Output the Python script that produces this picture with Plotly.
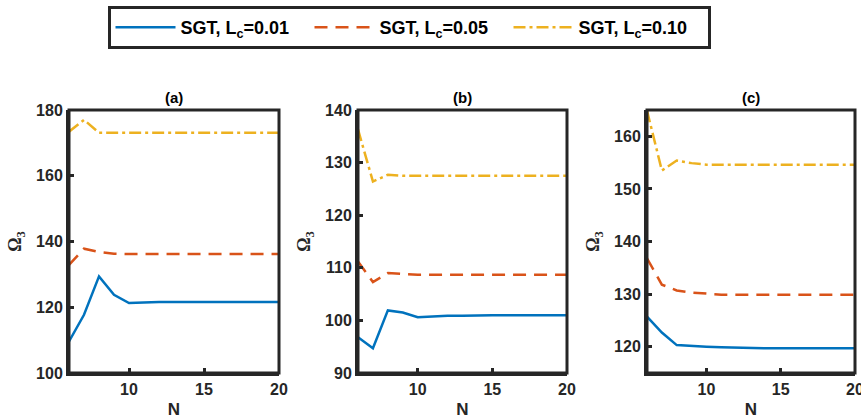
import plotly.graph_objects as go

N = list(range(6, 21))

# Panel (a)
a_001 = [109.6, 117.7, 129.4, 123.8, 121.3, 121.5, 121.6, 121.6, 121.6, 121.6, 121.6, 121.6, 121.6, 121.6, 121.6]
a_005 = [132.9, 137.8, 136.8, 136.3, 136.2, 136.2, 136.2, 136.2, 136.2, 136.2, 136.2, 136.2, 136.2, 136.2, 136.2]
a_010 = [173.4, 177.0, 173.1, 173.1, 173.1, 173.1, 173.1, 173.1, 173.1, 173.1, 173.1, 173.1, 173.1, 173.1, 173.1]

# Panel (b)
b_001 = [96.8, 94.7, 101.9, 101.5, 100.6, 100.8, 100.9, 100.9, 101.0, 101.0, 101.0, 101.0, 101.0, 101.0, 101.0]
b_005 = [111.2, 107.3, 109.0, 108.8, 108.7, 108.7, 108.7, 108.7, 108.7, 108.7, 108.7, 108.7, 108.7, 108.7, 108.7]
b_010 = [136.3, 126.4, 127.7, 127.5, 127.5, 127.5, 127.5, 127.5, 127.5, 127.5, 127.5, 127.5, 127.5, 127.5, 127.5]

# Panel (c)
c_001 = [125.7, 122.7, 120.3, 120.1, 120.0, 119.9, 119.8, 119.8, 119.7, 119.7, 119.7, 119.7, 119.7, 119.7, 119.7]
c_005 = [136.8, 131.8, 130.7, 130.3, 130.1, 129.9, 129.9, 129.9, 129.9, 129.9, 129.9, 129.9, 129.9, 129.9, 129.9]
c_010 = [164.9, 153.5, 155.4, 154.9, 154.6, 154.6, 154.6, 154.6, 154.6, 154.6, 154.6, 154.6, 154.6, 154.6, 154.6]

series_names = ["SGT, L<sub>c</sub>=0.01", "SGT, L<sub>c</sub>=0.05", "SGT, L<sub>c</sub>=0.10"]
panel_titles = ["(a)", "(b)", "(c)"]
y_ranges = [[100, 180], [90, 140], [115, 165]]
y_ticks = [[100, 120, 140, 160, 180], [90, 100, 110, 120, 130, 140], [120, 130, 140, 150, 160]]
x_range = [6, 20]
x_ticks = [10, 15, 20]

colors = ["#0072BD", "#D95319", "#EDB120"]
dashes = ["solid", "13px,8px", "12px,4px,3px,4px"]

panels = [(a_001, a_005, a_010), (b_001, b_005, b_010), (c_001, c_005, c_010)]

W, H = 861, 419
x_doms = [(69 / W, 279 / W), (358 / W, 567 / W), (647 / W, 855 / W)]
y_dom = (1 - 373 / H, 1 - 110 / H)
INK = "#262626"

fig = go.Figure()
for p, data in enumerate(panels):
    xa = "x" if p == 0 else f"x{p+1}"
    ya = "y" if p == 0 else f"y{p+1}"
    for s, vals in enumerate(data):
        fig.add_trace(go.Scatter(
            x=N, y=vals, mode="lines", name=series_names[s],
            line=dict(color=colors[s], width=2.5, dash=dashes[s]),
            xaxis=xa, yaxis=ya, showlegend=(p == 0),
        ))

axis_common = dict(
    showline=True, linecolor=INK, linewidth=3, mirror=False,
    ticks="inside", ticklen=5, tickwidth=2.5, tickcolor=INK,
    showgrid=False, zeroline=False, automargin=False, ticklabeloverflow="allow",
    tickfont=dict(family="Liberation Sans", size=16, color=INK, weight="bold"),
)
mirror_common = dict(
    showline=False, ticks="inside", ticklen=5, tickwidth=2.5, tickcolor=INK,
    showticklabels=False, showgrid=False, zeroline=False, automargin=False,
)

layout = dict(
    template="none",
    width=W, height=H,
    margin=dict(l=0, r=0, t=0, b=0, autoexpand=False),
    paper_bgcolor="white", plot_bgcolor="white",
    font=dict(family="Liberation Sans", size=16, color=INK, weight="bold"),
    legend=dict(
        orientation="h", x=409 / W, xanchor="center", y=1 - 6 / H, yanchor="top",
        bordercolor=INK, borderwidth=3, bgcolor="white",
        font=dict(family="Liberation Sans", size=18, color="black", weight="bold"),
        entrywidth=124, entrywidthmode="pixels", itemwidth=60, tracegroupgap=0,
    ),
    annotations=[],
    shapes=[],
)

for p in range(3):
    xk = "xaxis" if p == 0 else f"xaxis{p+1}"
    yk = "yaxis" if p == 0 else f"yaxis{p+1}"
    ya_ref = "y" if p == 0 else f"y{p+1}"
    xa_ref = "x" if p == 0 else f"x{p+1}"
    layout[xk] = dict(axis_common, domain=list(x_doms[p]), range=x_range,
                      tickvals=x_ticks, anchor=ya_ref,
                      title=dict(text="N", standoff=6,
                                 font=dict(family="Liberation Sans", size=17, color=INK, weight="bold")))
    layout[yk] = dict(axis_common, domain=list(y_dom), range=y_ranges[p],
                      tickvals=y_ticks[p], anchor=xa_ref,
                      title=dict(text="<span style='font-family:Liberation Serif'>Ω</span><sub>3</sub>", standoff=10,
                                 font=dict(family="Liberation Serif", size=18, color=INK, weight="bold")))
    # mirrored tick marks on top and right
    layout[f"xaxis{p+4}"] = dict(mirror_common, domain=list(x_doms[p]), range=x_range,
                                 tickvals=x_ticks, overlaying=xa_ref, side="top", anchor=ya_ref)
    layout[f"yaxis{p+4}"] = dict(mirror_common, domain=list(y_dom), range=y_ranges[p],
                                 tickvals=y_ticks[p], overlaying=ya_ref, side="right", anchor=xa_ref)
    layout["annotations"].append(dict(
        text=panel_titles[p], xref="paper", yref="paper",
        x=(x_doms[p][0] + x_doms[p][1]) / 2, y=1 - 98 / H,
        xanchor="center", yanchor="middle", showarrow=False,
        font=dict(family="Liberation Sans", size=15, color="black", weight="bold"),
    ))
    layout["shapes"].append(dict(
        type="rect", xref=f"{xa_ref} domain", yref=f"{ya_ref} domain",
        x0=0, x1=1, y0=0, y1=1, line=dict(color=INK, width=3),
        fillcolor="rgba(0,0,0,0)", layer="above",
    ))

fig.update_layout(**layout)
fig.write_html("out.html")
